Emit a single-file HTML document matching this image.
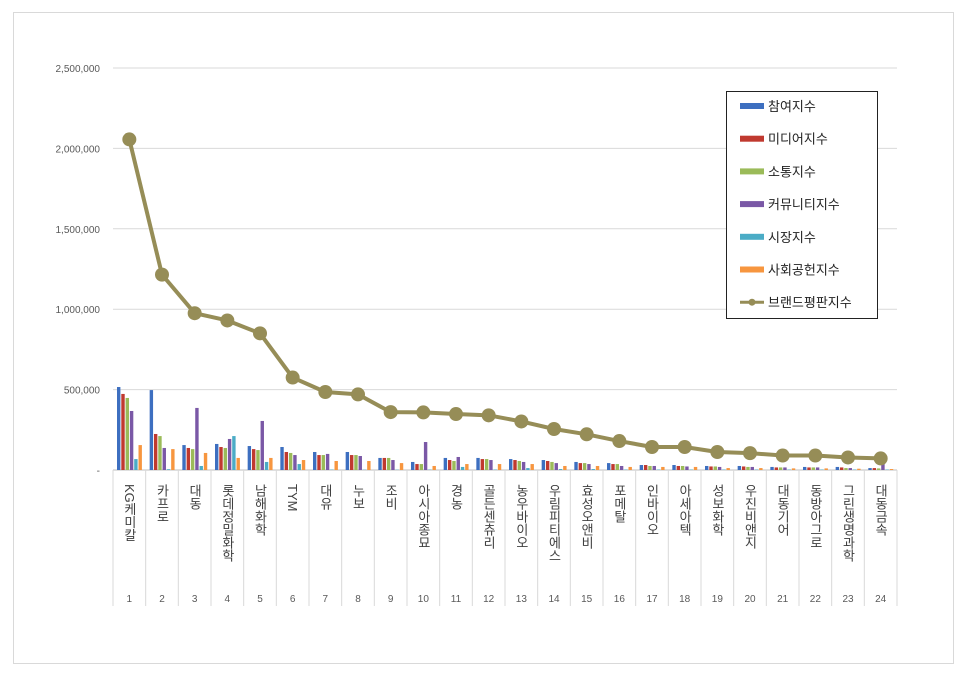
<!DOCTYPE html>
<html><head><meta charset="utf-8">
<style>
body{margin:0;background:#fff;font-family:"Liberation Sans","Noto Sans CJK KR",sans-serif;}
svg{display:block}
</style></head><body>
<svg id="c" width="966" height="676" xmlns="http://www.w3.org/2000/svg">
<rect x="13.5" y="12.5" width="940" height="651" fill="#fff" stroke="#d9d9d9"/>
<g id="grid"></g><g id="bars"></g><g id="line"></g><g id="xlab"></g>
<g>
<rect x="726.5" y="91.5" width="151" height="227" fill="#fff" stroke="#222"/>
<g id="leg"></g></g>
</svg>
<script>
const categories=["KG케미칼","카프로","대동","롯데정밀화학","남해화학","TYM","대유","누보","조비","아시아종묘","경농","골든센츄리","농우바이오","우림피티에스","효성오앤비","포메탈","인바이오","아세아텍","성보화학","우진비앤지","대동기어","동방아그로","그린생명과학","대동금속"];
const participation=[516,497,155,162,149,143,112,112,75,50,75,75,68,62,50,43,31,31,25,25,19,19,19,12];
const media=[473,224,137,143,130,112,93,93,75,37,62,68,62,56,43,37,31,25,22,22,16,16,16,12];
const communication=[448,211,130,137,124,106,93,93,75,37,56,68,56,50,43,37,25,25,22,19,16,16,12,10];
const community=[367,137,386,193,305,93,100,87,62,174,81,62,50,43,37,25,25,22,19,19,16,16,12,40];
const market=[68,5,25,211,50,37,3,2,2,3,19,3,12,6,6,3,3,3,3,3,3,3,3,3];
const social=[155,130,106,75,75,62,56,56,43,25,37,37,37,25,25,19,19,19,12,12,10,10,8,6];
const brandIndex=[2056,1215,975,930,850,575,485,470,360,358,348,340,302,255,222,180,143,143,112,105,90,90,78,72];
const yTicks=[0,500000,1000000,1500000,2000000,2500000];
const yTickLabels=["-","500,000","1,000,000","1,500,000","2,000,000","2,500,000"];
const seriesNames=["참여지수","미디어지수","소통지수","커뮤니티지수","시장지수","사회공헌지수","브랜드평판지수"];
const colors=["#3d6fc0","#c0392f","#9bbb59","#7a58a6","#4bacc6","#f7963f"];
const lineColor="#968d57";
const NS="http://www.w3.org/2000/svg";
const x0=113,x1=897,y0=470,yTop=68,vmax=2500000;
const cw=(x1-x0)/categories.length;
const Y=v=>y0-(v/vmax)*(y0-yTop);
const X=i=>x0+cw*i;
function mk(t,a,p){const e=document.createElementNS(NS,t);for(const k in a)e.setAttribute(k,a[k]);p.appendChild(e);return e;}
const grid=document.getElementById('grid');
yTicks.forEach((v,i)=>{
 const l=mk('line',{x1:x0,x2:x1,y1:Y(v),y2:Y(v),stroke:i==0?'#bfbfbf':'#d9d9d9'},grid);
 
 
 const t=mk('text',{x:100,y:Y(v)+4,'text-anchor':'end','font-size':'10',fill:'#595959'},grid);
 t.textContent=yTickLabels[i];
 
 
});
for(let i=0;i<=categories.length;i++){
 const l=mk('line',{x1:X(i),x2:X(i),y1:y0,y2:606,stroke:'#d9d9d9'},grid);
 
 
}
const bars=document.getElementById('bars');
const series=[participation,media,communication,community,market,social];
series.forEach((s,si)=>{s.forEach((v,i)=>{
 const h=y0-Y(v*1000);
 const r=mk('rect',{x:X(i)+4+si*4.3,y:y0-h,width:3.4,height:h,fill:colors[si]},bars);
 
 
});});
const lg=document.getElementById('line');
const pts=brandIndex.map((v,i)=>[X(i)+cw/2,Y(v*1000)]);
const pl=mk('polyline',{points:pts.map(p=>p.join(',')).join(' '),fill:'none',stroke:lineColor,'stroke-width':4,'stroke-linejoin':'round'},lg);


pts.forEach(p=>{
 const c=mk('circle',{cx:p[0],cy:p[1],r:7,fill:lineColor},lg);
 
 
});
const xl=document.getElementById('xlab');
categories.forEach((c,i)=>{
 const t=mk('text',{x:X(i)+cw/2,y:484,'font-size':'13',fill:'#404040','writing-mode':'tb','style':'writing-mode:vertical-rl;text-orientation:mixed'},xl);
 t.textContent=c;
 
 
 const n=mk('text',{x:X(i)+cw/2,y:602,'font-size':'10','text-anchor':'middle',fill:'#595959'},xl);
 n.textContent=String(i+1);
 
 
});
const leg=document.getElementById('leg');
seriesNames.forEach((n,i)=>{
 const y=106+i*32.7;
 if(i<6){const r=mk('rect',{x:740,y:y-3,width:24,height:6,fill:colors[i]},leg);
  
  }
 else{mk('line',{x1:740,x2:764,y1:y,y2:y,stroke:lineColor,'stroke-width':3},leg);
  const c=mk('circle',{cx:752,cy:y,r:3.5,fill:lineColor},leg);
  
  }
 const t=mk('text',{x:768,y:y+5,'font-size':'13',fill:'#222'},leg);
 t.textContent=n;
 
 
});
</script>
</body></html>
